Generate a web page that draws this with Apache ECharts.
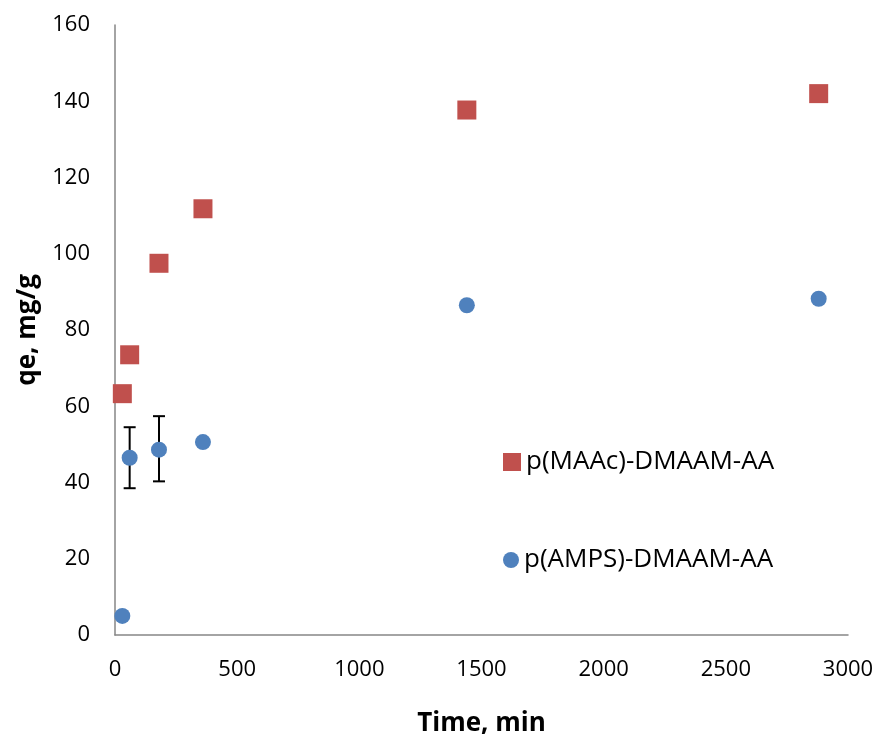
<!DOCTYPE html>
<html>
<head>
<meta charset="utf-8">
<script src="https://cdn.jsdelivr.net/npm/echarts@6/dist/echarts.min.js"></script>
<style>html,body{margin:0;padding:0;background:#fff}#c{width:877px;height:742px}</style>
</head>
<body>
<div id="c"></div>
<script>
const timeMin = [30, 60, 180, 360, 1440, 2880];
const qeMAAc = [63.3, 73.5, 97.5, 111.8, 137.7, 142.0];
const qeAMPS = [5.0, 46.5, 48.6, 50.6, 86.5, 88.2];
const errTime = [60, 180];
const errLow = [38.5, 40.3];
const errHigh = [54.5, 57.4];
const seriesNames = ['p(MAAc)-DMAAM-AA', 'p(AMPS)-DMAAM-AA'];

const chart = echarts.init(document.getElementById('c'));
const font = '"Open Sans", "Liberation Sans", sans-serif';
chart.setOption({
  animation: false,
  backgroundColor: '#fff',
  grid: {left: 115, right: 29, top: 25, bottom: 103},
  legend: [
    {data: [{name: seriesNames[0], icon: 'rect'}], left: 498, top: 444, itemWidth: 18, itemHeight: 18,
     textStyle: {fontFamily: font, fontSize: 26, color: '#000'}},
    {data: [{name: seriesNames[1], icon: 'circle'}], left: 498, top: 542, itemWidth: 16, itemHeight: 16,
     textStyle: {fontFamily: font, fontSize: 26, color: '#000'}}
  ],
  xAxis: {
    type: 'value', min: 0, max: 3000, interval: 500,
    name: 'Time, min', nameLocation: 'middle', nameGap: 76,
    nameTextStyle: {fontFamily: font, fontSize: 26, fontWeight: 'bold', color: '#000'},
    axisLine: {show: true, lineStyle: {color: '#868686', width: 1.5}},
    axisTick: {show: false}, splitLine: {show: false},
    axisLabel: {fontFamily: font, fontSize: 22, color: '#000', margin: 24, formatter: v => String(v)}
  },
  yAxis: {
    type: 'value', min: 0, max: 160, interval: 20,
    name: 'qe, mg/g', nameLocation: 'middle', nameGap: 74,
    nameTextStyle: {fontFamily: font, fontSize: 26, fontWeight: 'bold', color: '#000'},
    axisLine: {show: true, lineStyle: {color: '#868686', width: 1.5}},
    axisTick: {show: false}, splitLine: {show: false},
    axisLabel: {fontFamily: font, fontSize: 22, color: '#000', margin: 25}
  },
  series: [
    {
      name: seriesNames[0], type: 'scatter', symbol: 'rect', symbolSize: 19,
      itemStyle: {color: '#C0504D', opacity: 1},
      data: timeMin.map((t, i) => [t, qeMAAc[i]])
    },
    {
      name: seriesNames[1], type: 'scatter', symbol: 'circle', symbolSize: 16,
      itemStyle: {color: '#4F81BD', opacity: 1},
      data: timeMin.map((t, i) => [t, qeAMPS[i]])
    },
    {
      type: 'custom', z: 1,
      data: errTime.map((t, i) => [t, errLow[i], errHigh[i]]),
      renderItem: function (params, api) {
        const lo = api.coord([api.value(0), api.value(1)]);
        const hi = api.coord([api.value(0), api.value(2)]);
        const w = 6;
        const st = {stroke: '#000', lineWidth: 2};
        return {type: 'group', children: [
          {type: 'line', shape: {x1: lo[0], y1: lo[1], x2: hi[0], y2: hi[1]}, style: st},
          {type: 'line', shape: {x1: lo[0] - w, y1: lo[1], x2: lo[0] + w, y2: lo[1]}, style: st},
          {type: 'line', shape: {x1: hi[0] - w, y1: hi[1], x2: hi[0] + w, y2: hi[1]}, style: st}
        ]};
      }
    }
  ]
});
</script>
</body>
</html>
